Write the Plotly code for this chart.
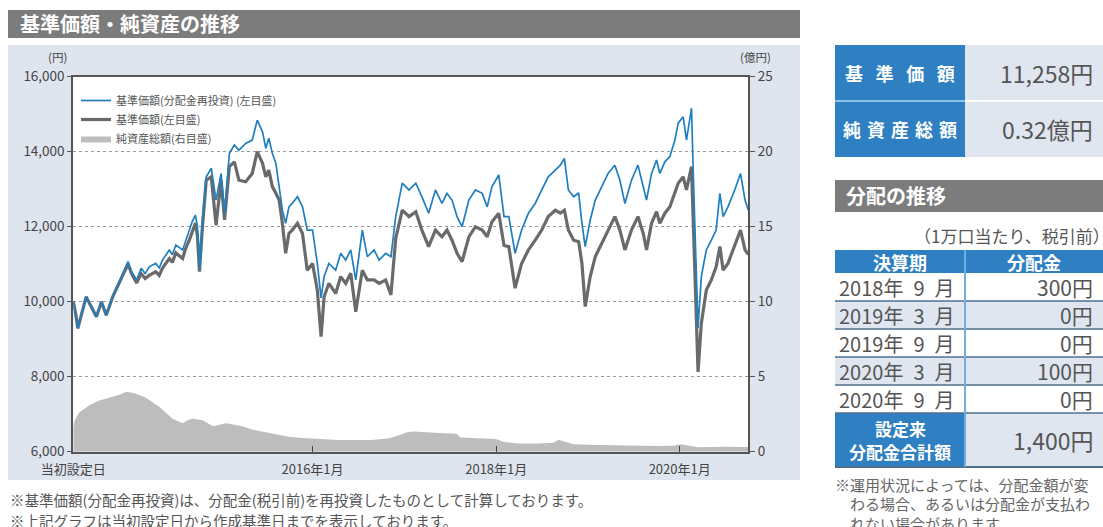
import plotly.graph_objects as go

W, H = 1103, 527
FONT = "Noto Sans CJK JP"

# ---------------- data ----------------
dates = [
    "2013-05-24", "2013-06-02", "2013-06-11", "2013-06-26", "2013-07-14", "2013-08-01",
    "2013-08-24", "2013-09-13", "2013-10-02", "2013-10-29", "2013-11-24", "2013-12-10",
    "2013-12-28", "2014-01-11", "2014-01-31", "2014-02-18", "2014-03-06", "2014-03-22",
    "2014-04-17", "2014-05-01", "2014-05-14", "2014-06-10", "2014-06-22", "2014-07-06",
    "2014-08-02", "2014-08-13", "2014-08-29", "2014-09-10", "2014-09-22", "2014-09-30",
    "2014-10-08", "2014-10-20", "2014-11-04", "2014-11-24", "2014-12-13", "2015-01-02",
    "2015-01-16", "2015-02-04", "2015-02-24", "2015-03-14", "2015-04-10", "2015-05-06",
    "2015-05-26", "2015-06-16", "2015-06-29", "2015-07-11", "2015-07-25", "2015-08-08",
    "2015-08-21", "2015-09-03", "2015-09-16", "2015-09-29", "2015-10-12", "2015-11-02",
    "2015-11-22", "2015-12-11", "2016-01-01", "2016-01-20", "2016-02-04", "2016-02-16",
    "2016-03-06", "2016-04-02", "2016-04-22", "2016-05-12", "2016-06-01", "2016-06-21",
    "2016-07-17", "2016-08-06", "2016-09-02", "2016-09-22", "2016-10-18", "2016-11-08",
    "2016-11-27", "2016-12-23", "2017-01-19", "2017-02-15", "2017-03-11", "2017-04-07",
    "2017-05-04", "2017-05-30", "2017-06-19", "2017-07-09", "2017-07-29", "2017-08-18",
    "2017-09-14", "2017-10-10", "2017-11-06", "2017-11-26", "2017-12-15", "2018-01-11",
    "2018-02-01", "2018-02-20", "2018-03-17", "2018-04-12", "2018-05-09", "2018-06-05",
    "2018-07-01", "2018-07-27", "2018-08-24", "2018-09-13", "2018-09-29", "2018-10-15",
    "2018-11-05", "2018-11-25", "2018-12-08", "2018-12-21", "2019-01-10", "2019-01-30",
    "2019-02-25", "2019-03-22", "2019-04-18", "2019-05-08", "2019-05-28", "2019-06-23",
    "2019-07-19", "2019-08-09", "2019-08-22", "2019-09-11", "2019-10-01", "2019-10-14",
    "2019-11-03", "2019-11-23", "2019-12-13", "2019-12-26", "2020-01-15", "2020-01-28",
    "2020-02-17", "2020-02-24", "2020-03-04", "2020-03-14", "2020-03-27", "2020-04-16",
    "2020-05-06", "2020-05-25", "2020-06-09", "2020-06-22", "2020-07-11", "2020-08-07",
    "2020-08-30", "2020-09-17", "2020-09-30",
]

nav_reinvested = [
    10000, 9700, 9290, 9700, 10130, 9900,
    9600, 10000, 9640, 10150, 10580, 10800,
    11070, 10800, 10580, 10890, 10750, 10930,
    11020, 10900, 11110, 11380, 11250, 11510,
    11380, 11600, 11910, 12150, 12310, 12000,
    10850, 12200, 13330, 13560, 12710, 13420,
    12360, 13960, 14180, 14040, 14220, 14310,
    14840, 14530, 14090, 14360, 13960, 13690,
    13070, 12440, 12090, 12530, 12620, 12800,
    12530, 11910, 11910, 11020, 10100, 10670,
    11020, 10840, 11290, 11110, 11380, 10580,
    11910, 11200, 11380, 11110, 11290, 11200,
    12270, 13160, 12980, 13160, 12800, 12360,
    12980, 12620, 12890, 12710, 12270, 12000,
    12710, 12980, 12890, 12530, 13070, 13380,
    12270, 12270, 11290, 11910, 12360, 12620,
    12980, 13330, 13510, 13640, 13820, 12980,
    12800, 12900, 12090, 11470, 12180, 12710,
    13070, 13420, 13640, 13240, 12620, 13240,
    13640, 13070, 12710, 13420, 13780, 13420,
    13730, 13870, 14310, 14760, 14930, 14310,
    15160, 13420, 11200, 9300, 10670, 11380,
    11640, 11910, 12890, 12270, 12530, 12980,
    13420, 12710, 12440,
]

nav = [
    10000, 9700, 9290, 9700, 10130, 9900,
    9600, 10000, 9640, 10150, 10550, 10750,
    11000, 10750, 10500, 10750, 10620, 10700,
    10800, 10700, 10900, 11150, 11050, 11300,
    11150, 11400, 11650, 11900, 12100, 11750,
    10800, 12000, 13240, 13330, 12040, 13240,
    12180, 13600, 13730, 13240, 13200, 13420,
    14000, 13690, 13330, 13510, 13070, 12890,
    12710, 12090, 11290, 11820, 11910, 12090,
    11820, 10840, 11020, 10310, 9070, 10130,
    10490, 10220, 10670, 10490, 10760, 9730,
    10840, 10580, 10580, 10490, 10580, 10180,
    11690, 12440, 12270, 12400, 11910, 11470,
    11910, 11730, 11910, 11640, 11290, 11070,
    11730, 12000, 11910, 11730, 12130, 12360,
    11500, 11470, 10360, 11020, 11380, 11640,
    11910, 12270, 12440, 12360, 12440, 11910,
    11640, 11600, 11020, 9870, 10670, 11200,
    11560, 11910, 12270, 11910, 11380, 11910,
    12270, 11820, 11380, 12090, 12400, 12090,
    12360, 12530, 12890, 13160, 13330, 12980,
    13600, 12100, 10100, 8130, 9420, 10310,
    10580, 10930, 11470, 10840, 11020, 11470,
    11910, 11380, 11258,
]

na_dates = [
    "2013-05-24", "2013-05-30", "2013-06-15", "2013-07-27", "2013-09-01", "2013-10-10",
    "2013-11-24", "2013-12-21", "2014-01-23", "2014-03-09", "2014-04-04", "2014-05-01",
    "2014-05-28", "2014-06-23", "2014-08-02", "2014-08-21", "2014-09-11", "2014-10-21",
    "2014-12-01", "2014-12-26", "2015-01-22", "2015-02-24", "2015-03-27", "2015-05-13",
    "2015-07-24", "2015-09-29", "2015-12-05", "2016-01-27", "2016-04-15", "2016-08-25",
    "2016-11-01", "2016-12-10", "2017-01-11", "2017-02-08", "2017-03-18", "2017-05-17",
    "2017-07-27", "2017-08-12", "2017-10-23", "2017-12-30", "2018-02-01", "2018-03-30",
    "2018-06-18", "2018-08-17", "2018-09-06", "2018-09-26", "2018-11-05", "2019-02-12",
    "2019-06-10", "2019-10-07", "2019-12-06", "2020-01-03", "2020-02-04", "2020-03-14",
    "2020-06-17", "2020-09-30",
]
net_assets = [
    1.6, 2.1, 2.6, 3.1, 3.4, 3.6,
    3.8, 4.0, 3.9, 3.6, 3.3, 3.0,
    2.6, 2.2, 1.9, 2.1, 2.2, 2.1,
    1.7, 1.8, 1.9, 1.8, 1.7, 1.45,
    1.2, 1.0, 0.9, 0.85, 0.78, 0.78,
    0.9, 1.1, 1.3, 1.35, 1.3, 1.25,
    1.2, 0.95, 0.9, 0.85, 0.65, 0.55,
    0.55, 0.6, 0.8, 0.7, 0.5, 0.45,
    0.4, 0.38, 0.4, 0.5, 0.42, 0.3,
    0.33, 0.32,
]

x_tick_dates = ["2013-05-24", "2016-01-01", "2018-01-01", "2020-01-01"]
x_tick_labels = ["当初設定日", "2016年1月", "2018年1月", "2020年1月"]

latest_nav = 11258
latest_net_assets = 0.32

dist_periods = ["2018年\u20029\u2002月", "2019年\u20023\u2002月", "2019年\u20029\u2002月",
                "2020年\u20023\u2002月", "2020年\u20029\u2002月"]
dist_values = [300, 0, 0, 100, 0]
dist_total = 1400

# ---------------- helpers ----------------
def px(x):
    return x / W


def py(y):
    return 1 - y / H


def rect(x0, y0, x1, y1, fill, line_color=None, lw=0, layer="below"):
    return dict(type="rect", xref="paper", yref="paper", x0=px(x0), x1=px(x1),
                y0=py(y1), y1=py(y0), fillcolor=fill,
                line=dict(width=lw, color=line_color or fill), layer=layer)


def hline(x0, x1, y, color, lw=1, layer="above"):
    return dict(type="line", xref="paper", yref="paper", x0=px(x0), x1=px(x1),
                y0=py(y), y1=py(y), line=dict(color=color, width=lw), layer=layer)


def vline(x, y0, y1, color, lw=1, layer="above"):
    return dict(type="line", xref="paper", yref="paper", x0=px(x), x1=px(x),
                y0=py(y0), y1=py(y1), line=dict(color=color, width=lw), layer=layer)


def ann(text, x, y, size, color="#555555", xanchor="left", yanchor="middle", bold=False):
    if bold:
        text = "<b>" + text + "</b>"
    return dict(xref="paper", yref="paper", x=px(x), y=py(y), text=text, showarrow=False,
                xanchor=xanchor, yanchor=yanchor,
                font=dict(family=FONT, size=size, color=color))


BLUE_LINE = "#1f7fbf"
GRAY_LINE = "#6a6a6a"
AREA = "#bdbdbd"
PANEL = "#dfe5ee"
CELL_BLUE = "#2f80c2"
CELL_LIGHT = "#dfe6ef"
BAR_GRAY = "#7c7c7c"
TXT = "#555555"

# plot area in pixels
PL, PR, PT, PB = 73.3, 748.3, 76.7, 451.7

fig = go.Figure()

fig.add_trace(go.Scatter(
    x=na_dates, y=net_assets, name="純資産総額(右目盛)", mode="lines",
    line=dict(width=0, color=AREA), fill="tozeroy", fillcolor=AREA,
    yaxis="y", legendrank=3, hoverinfo="skip"))
fig.add_trace(go.Scatter(
    x=dates, y=nav, name="基準価額(左目盛)", mode="lines",
    line=dict(width=3.2, color=GRAY_LINE), yaxis="y2", legendrank=2))
fig.add_trace(go.Scatter(
    x=dates, y=nav_reinvested, name="基準価額(分配金再投資) (左目盛)", mode="lines",
    line=dict(width=1.7, color=BLUE_LINE), yaxis="y2", legendrank=1))

shapes = []
annotations = []

# left panel
shapes.append(rect(8, 10, 800, 38, BAR_GRAY))
shapes.append(rect(8, 45, 800, 480, PANEL))
shapes.append(rect(PL, PT, PR, PB, "#ffffff"))
annotations.append(ann("基準価額・純資産の推移", 18, 24, 20, "#ffffff", bold=True))
annotations.append(ann("(円)", 57, 57, 11.5, "#444444", xanchor="center"))
annotations.append(ann("(億円)", 755, 57, 11.5, "#444444", xanchor="center"))

# footnotes (left)
annotations.append(ann("※基準価額(分配金再投資)は、分配金(税引前)を再投資したものとして計算しております。",
                       8, 499, 14.5, TXT))
annotations.append(ann("※上記グラフは当初設定日から作成基準日までを表示しております。",
                       8, 520, 14.5, TXT))

# top right summary table
shapes.append(rect(835, 45, 965, 157, CELL_BLUE))
shapes.append(rect(965, 45, 1103, 157, CELL_LIGHT))
shapes.append(hline(835, 965, 101, "#8ec0e6", 2))
shapes.append(hline(965, 1103, 101, "#ffffff", 2))
annotations.append(ann("基\u2002\u2009準\u2002\u2009価\u2002\u2009額", 900, 73, 18, "#ffffff",
                       xanchor="center", bold=True))
annotations.append(ann("純\u2004資\u2004産\u2004総\u2004額", 900, 129, 18, "#ffffff",
                       xanchor="center", bold=True))
annotations.append(ann(f"{latest_nav:,}円", 1095, 73, 23, TXT, xanchor="right"))
annotations.append(ann(f"{latest_net_assets:.2f}億円", 1095, 129, 23, TXT, xanchor="right"))

# distribution table
shapes.append(rect(835, 180, 1103, 212, BAR_GRAY))
annotations.append(ann("分配の推移", 844, 196, 20, "#ffffff", bold=True))
annotations.append(ann("（1万口当たり、税引前）", 1112, 236, 17, TXT, xanchor="right"))
shapes.append(rect(835, 250, 1103, 273, CELL_BLUE))
annotations.append(ann("決算期", 900, 261.5, 18, "#ffffff", xanchor="center", bold=True))
annotations.append(ann("分配金", 1034, 261.5, 18, "#ffffff", xanchor="center", bold=True))
row_h = 28
top = 273
for i, (p, v) in enumerate(zip(dist_periods, dist_values)):
    y0 = top + i * row_h
    fill = "#ffffff" if i % 2 == 0 else CELL_LIGHT
    shapes.append(rect(835, y0, 1103, y0 + row_h, fill))
    shapes.append(hline(835, 1103, y0 + row_h, "#4f6f8f", 1.5))
    annotations.append(ann(p, 837, y0 + row_h / 2, 20, TXT))
    annotations.append(ann(f"{v:,}円", 1095, y0 + row_h / 2, 21, TXT, xanchor="right"))
tot_top = top + len(dist_periods) * row_h
shapes.append(rect(835, tot_top, 965, tot_top + 54, CELL_BLUE))
shapes.append(rect(965, tot_top, 1103, tot_top + 54, CELL_LIGHT))
shapes.append(hline(835, 1103, tot_top + 54, "#4f6f8f", 2))
shapes.append(vline(965, 250, tot_top + 54, "#6fb0e0", 2))
annotations.append(ann("設定来", 900, tot_top + 15, 17, "#ffffff", xanchor="center", bold=True))
annotations.append(ann("分配金合計額", 900, tot_top + 38, 17, "#ffffff", xanchor="center", bold=True))
annotations.append(ann(f"{dist_total:,}円", 1095, tot_top + 27, 23, TXT, xanchor="right"))

annotations.append(ann("※運用状況によっては、分配金額が変", 833, 484, 15, "#666666"))
annotations.append(ann("わる場合、あるいは分配金が支払わ", 848, 503.5, 15, "#666666"))
annotations.append(ann("れない場合があります。", 848, 523, 15, "#666666"))

fig.update_layout(
    width=W, height=H,
    margin=dict(l=0, r=0, t=0, b=0, autoexpand=False),
    paper_bgcolor="#ffffff",
    plot_bgcolor="#ffffff",
    showlegend=True,
    legend=dict(x=px(76), y=py(86), xanchor="left", yanchor="top",
                bgcolor="rgba(0,0,0,0)", font=dict(family=FONT, size=11, color=TXT),
                itemwidth=30, tracegroupgap=0),
    font=dict(family=FONT, color="#444444"),
    shapes=shapes,
    annotations=annotations,
    xaxis=dict(
        domain=[px(PL), px(PR)], type="date", automargin=False,
        range=["2013-05-24", "2020-09-30"],
        tickvals=x_tick_dates, ticktext=x_tick_labels,
        ticks="inside", ticklen=6, tickcolor="#444444", tickwidth=1,
        ticklabelstandoff=5,
        showline=True, linecolor="#555555", linewidth=1.5, mirror=True,
        showgrid=False, zeroline=False, anchor="y",
        tickfont=dict(family=FONT, size=13, color="#444444"),
    ),
    yaxis=dict(
        domain=[py(PB), py(PT)], range=[0, 25], side="right", automargin=False,
        tickvals=[0, 5, 10, 15, 20, 25],
        ticks="outside", ticklen=5, tickcolor="#555555",
        showline=True, linecolor="#555555", linewidth=1.5, mirror=True,
        showgrid=False, zeroline=False, anchor="x",
        tickfont=dict(family=FONT, size=13.5, color="#444444"),
    ),
    yaxis2=dict(
        overlaying="y", side="left", range=[6000, 16000], automargin=False,
        tickvals=[6000, 8000, 10000, 12000, 14000, 16000], tickformat=",d",
        ticks="outside", ticklen=5, tickcolor="#555555",
        showgrid=True, gridcolor="#9a9a9a", griddash="dot", gridwidth=1,
        showline=False, zeroline=False, anchor="x",
        tickfont=dict(family=FONT, size=13.5, color="#444444"),
    ),
)

fig.write_html("out.html",
               config={"displayModeBar": False},
               post_script="document.body.style.margin='0';document.body.style.overflow='hidden';")
